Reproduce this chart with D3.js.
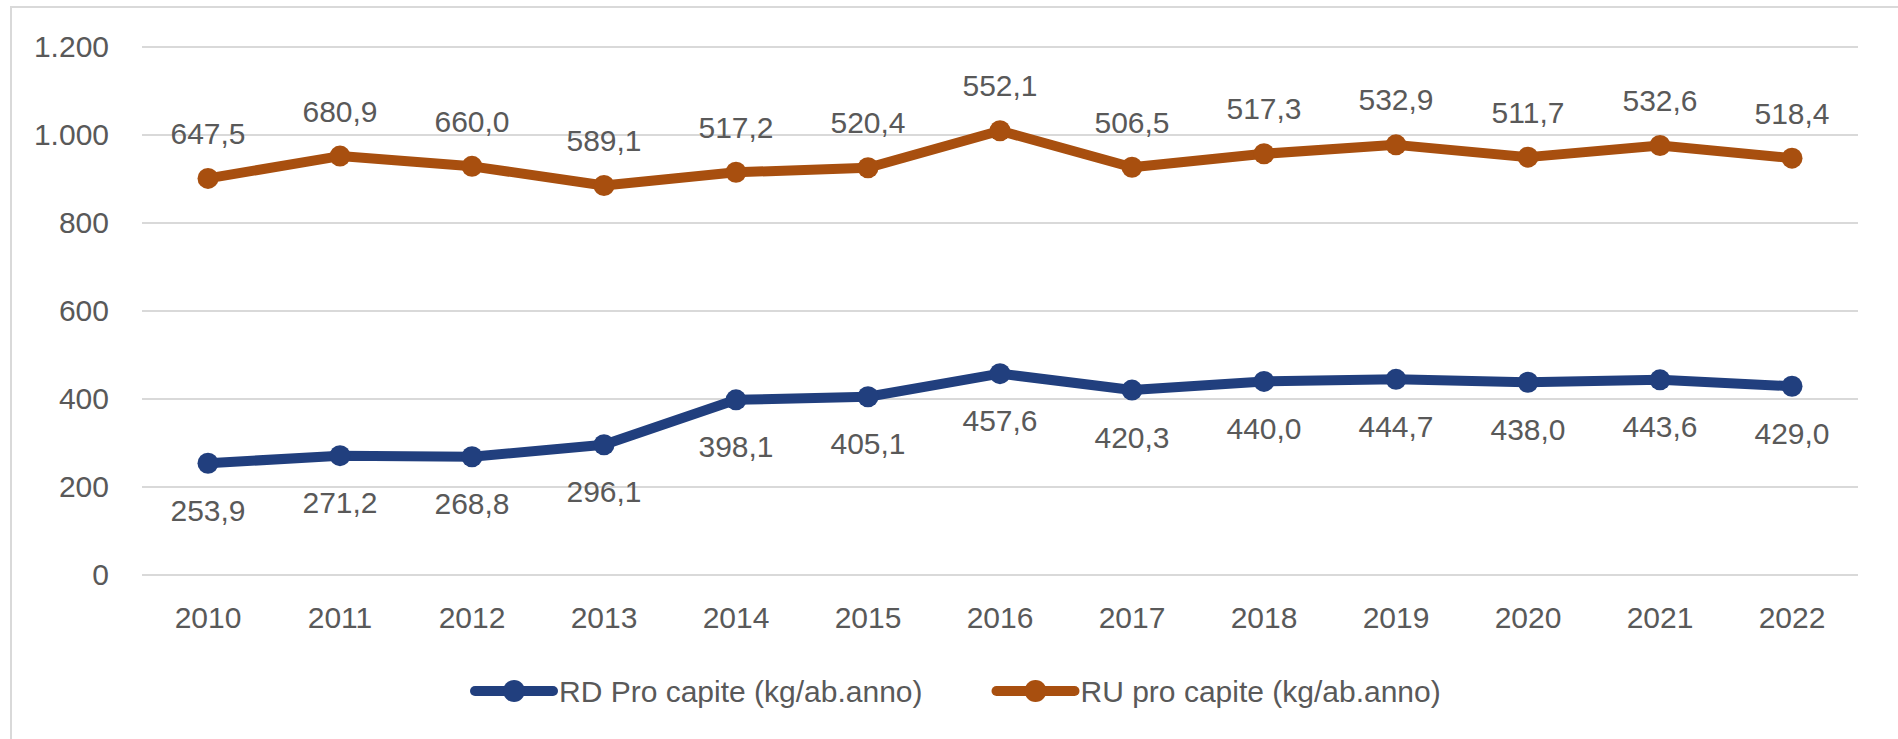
<!DOCTYPE html>
<html>
<head>
<meta charset="utf-8">
<script src="https://cdn.jsdelivr.net/npm/d3@7"></script>
<style>
  body { margin: 0; background: #fff; }
  svg text { font-family: "Liberation Sans", Arial, sans-serif; fill: #595959; }
</style>
</head>
<body>
<script>
// data (per capite, kg/ab.anno)
const years = ["2010","2011","2012","2013","2014","2015","2016","2017","2018","2019","2020","2021","2022"]
const rdValues = [253.9, 271.2, 268.8, 296.1, 398.1, 405.1, 457.6, 420.3, 440.0, 444.7, 438.0, 443.6, 429.0]
const ruValues = [647.5, 680.9, 660.0, 589.1, 517.2, 520.4, 552.1, 506.5, 517.3, 532.9, 511.7, 532.6, 518.4]
const yTicks = [0, 200, 400, 600, 800, 1000, 1200]
const seriesNames = ["RD Pro capite (kg/ab.anno)", "RU pro capite (kg/ab.anno)"]

const svgWidth = 1898, svgHeight = 739
const margin = {top: 47, right: 40, bottom: 164, left: 142}
const fontSize = 30
const colors = ["#213f7e", "#a84f0f"]

const it = d3.formatLocale({decimal: ",", thousands: ".", grouping: [3], currency: ["", "€"]})
const fmtTick = it.format(",d")
const fmtVal = it.format(".1f")

// stacked line: RU is drawn on top of RD
const rdPoints = years.map((y, i) => ({year: y, v: rdValues[i], top: rdValues[i]}))
const ruPoints = years.map((y, i) => ({year: y, v: ruValues[i], top: rdValues[i] + ruValues[i]}))

const svg = d3.select("body").append("svg")
  .attr("width", svgWidth)
  .attr("height", svgHeight)

// chart frame (cut off right and bottom like the picture)
svg.append("rect")
  .attr("x", 11).attr("y", 7)
  .attr("width", svgWidth).attr("height", svgHeight)
  .attr("fill", "none")
  .attr("stroke", "#d9d9d9")
  .attr("stroke-width", 2)

const xScale = d3.scaleBand()
  .domain(years)
  .range([margin.left, svgWidth - margin.right])
  .padding(0)

const yScale = d3.scaleLinear()
  .domain([0, 1200])
  .range([svgHeight - margin.bottom, margin.top])

const xc = d => xScale(d) + xScale.bandwidth() / 2

// gridlines
svg.append("g")
  .selectAll("line")
  .data(yTicks)
  .enter().append("line")
  .attr("x1", margin.left)
  .attr("x2", svgWidth - margin.right)
  .attr("y1", d => yScale(d))
  .attr("y2", d => yScale(d))
  .attr("stroke", "#d9d9d9")
  .attr("stroke-width", 2)

// y axis labels
const yAxis = d3.axisLeft(yScale).tickValues(yTicks).tickFormat(fmtTick).tickSize(0).tickPadding(33)
const gy = svg.append("g").attr("transform", "translate(" + margin.left + ",0)").call(yAxis)
gy.select(".domain").remove()
gy.selectAll("text").style("font-size", fontSize + "px").attr("fill", "#595959")
  .style("font-family", "Liberation Sans, Arial, sans-serif")

// x axis labels
const xAxis = d3.axisBottom(xScale).tickSize(0).tickPadding(32)
const gx = svg.append("g").attr("transform", "translate(0," + yScale(0) + ")").call(xAxis)
gx.select(".domain").remove()
gx.selectAll("text").style("font-size", fontSize + "px").attr("fill", "#595959")
  .style("font-family", "Liberation Sans, Arial, sans-serif")

const line = d3.line().x(d => xc(d.year)).y(d => yScale(d.top))

function drawSeries(points, color, labelDy) {
  const g = svg.append("g")
  g.append("path")
    .datum(points)
    .attr("d", line)
    .attr("fill", "none")
    .attr("stroke", color)
    .attr("stroke-width", 10)
    .attr("stroke-linejoin", "round")
  g.selectAll("circle")
    .data(points)
    .enter().append("circle")
    .attr("cx", d => xc(d.year))
    .attr("cy", d => yScale(d.top))
    .attr("r", 10.5)
    .attr("fill", color)
  g.selectAll("text")
    .data(points)
    .enter().append("text")
    .attr("x", d => xc(d.year))
    .attr("y", d => yScale(d.top) + labelDy)
    .attr("dy", "0.35em")
    .attr("text-anchor", "middle")
    .style("font-size", fontSize + "px")
    .text(d => fmtVal(d.v))
}

drawSeries(rdPoints, colors[0], 47)
drawSeries(ruPoints, colors[1], -45)

// legend
const legend = svg.append("g").attr("transform", "translate(0,691)")
let lx = 475
seriesNames.forEach(function(name, i) {
  const item = legend.append("g").attr("transform", "translate(" + lx + ",0)")
  item.append("line")
    .attr("x1", 0).attr("x2", 78)
    .attr("stroke", colors[i])
    .attr("stroke-width", 10)
    .attr("stroke-linecap", "round")
  item.append("circle").attr("cx", 39).attr("r", 11).attr("fill", colors[i])
  const t = item.append("text")
    .attr("x", 84)
    .attr("dy", "0.35em")
    .style("font-size", fontSize + "px")
    .text(name)
  lx += 84 + t.node().getComputedTextLength() + 74
})
</script>
</body>
</html>
